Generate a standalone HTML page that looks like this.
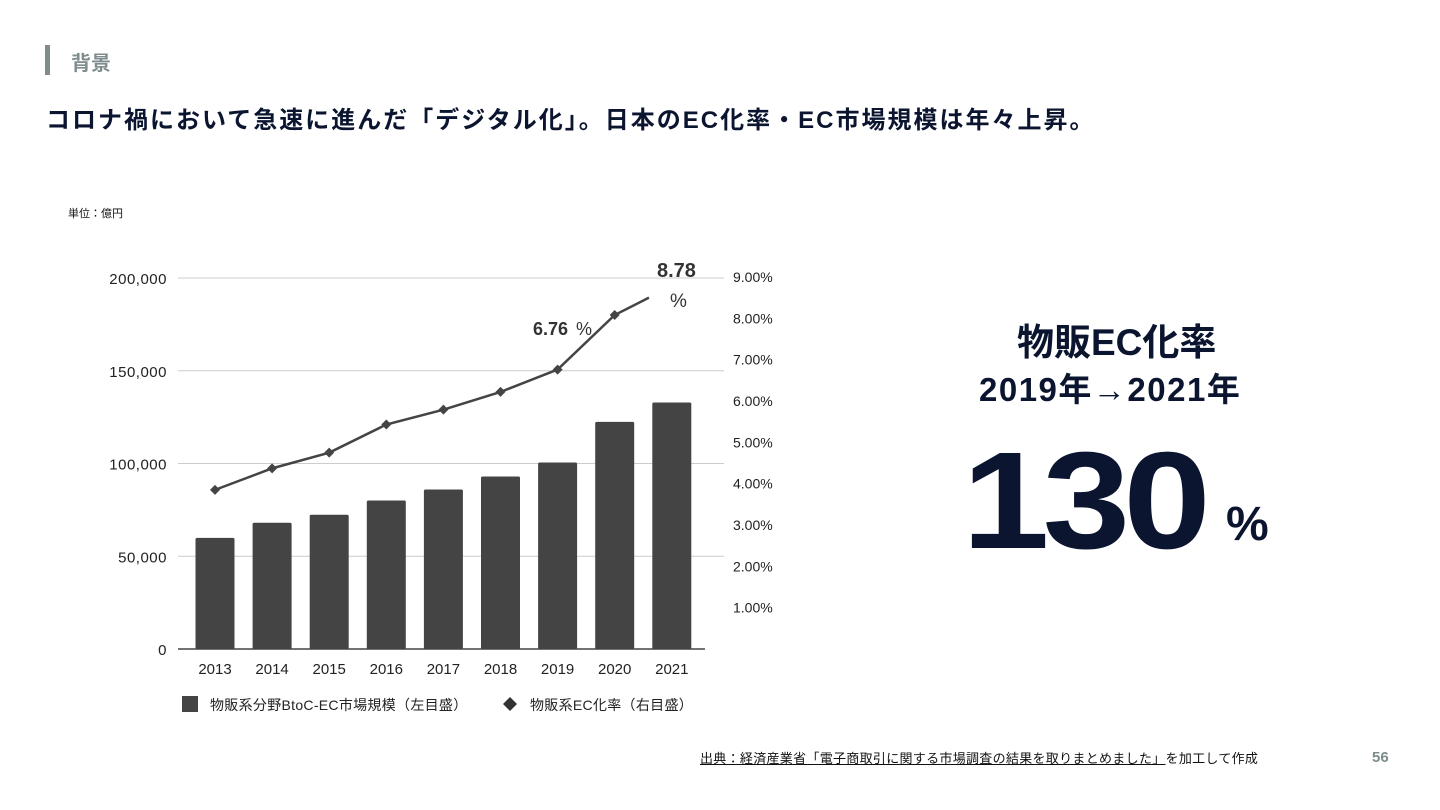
<!DOCTYPE html>
<html><head><meta charset="utf-8">
<style>
body{margin:0;width:1440px;height:810px;background:#fff;font-family:"Liberation Sans","Noto Sans CJK JP",sans-serif;position:relative;overflow:hidden;color:#0b1530}
.a{position:absolute;white-space:nowrap}
</style></head><body>
<div class="a" style="left:45px;top:45px;width:5px;height:30px;background:#7f8c8d"></div>
<div class="a" style="left:71px;top:47px;font-size:20px;font-weight:bold;color:#7f8c8d">背景</div>
<div class="a" style="left:46px;top:100px;font-size:24px;font-weight:bold;letter-spacing:2px;color:#0b1530">コロナ禍において急速に進んだ「デジタル化」。日本のEC化率・EC市場規模は年々上昇。</div>
<div class="a" style="left:68px;top:205px;font-size:11px;color:#111">単位：億円</div>

<svg class="a" style="left:0;top:0" width="1440" height="810">
<g id="g"></g>
</svg>

<div class="a" style="left:1017px;top:312px;font-size:37px;font-weight:bold;color:#0b1530">物販EC化率</div>
<div class="a" style="left:979px;top:363px;font-size:33px;font-weight:bold;letter-spacing:1.5px;color:#0b1530">2019年→2021年</div>
<div class="a" style="left:962px;top:422px;font-size:138px;font-weight:900;letter-spacing:-6px;color:#0b1530;transform:scaleX(1.14);transform-origin:left">130</div>
<div class="a" style="left:1226px;top:497px;font-size:48px;font-weight:bold;color:#0b1530">%</div>

<div class="a" style="left:700px;top:748px;font-size:13px;letter-spacing:0.3px;color:#111"><span style="text-decoration:underline">出典：経済産業省「電子商取引に関する市場調査の結果を取りまとめました」</span>を加工して作成</div>
<div class="a" style="left:1372px;top:749px;font-size:15px;font-weight:bold;color:#7f8c8d">56</div>

<script>
const years=["2013","2014","2015","2016","2017","2018","2019","2020","2021"];
const marketSize=[59931,68043,72398,80043,86008,92992,100515,122449,132865];
const ecRate=[3.85,4.37,4.75,5.43,5.79,6.22,6.76,8.08,8.78];
const leftTicks=[0,50000,100000,150000,200000];
const rightTicks=[1,2,3,4,5,6,7,8,9];
const NS="http://www.w3.org/2000/svg";
const g=document.getElementById('g');
const X0=178,X1=724,Y0=649,Y1=278;
const yL=v=>Y0-(v/200000)*(Y0-Y1);
const yR=v=>Y0-(v/9)*(Y0-Y1+1);
const xC=i=>215+i*57.1;
function el(t,a,txt){const e=document.createElementNS(NS,t);for(const k in a)e.setAttribute(k,a[k]);if(txt!=null)e.textContent=txt;g.appendChild(e);return e;}
leftTicks.forEach(v=>{
 if(v>0){const l=el('line',{x1:X0,x2:X1,y1:yL(v),y2:yL(v),stroke:'#ccc','stroke-width':1});
 
 }
 const t=el('text',{x:167,y:yL(v)+6,'text-anchor':'end','font-size':15,fill:'#222','letter-spacing':'0.5'},v.toLocaleString('en-US'));
 
 
});
rightTicks.forEach(v=>{
 const t=el('text',{x:733,y:yR(v)+5,'font-size':14,fill:'#222'},v.toFixed(2)+'%');
 
 
});
marketSize.forEach((v,i)=>{
 const r=el('rect',{x:xC(i)-19.5,y:yL(v),width:39,height:Y0-yL(v),fill:'#444',rx:1.5});
 
 
 const t=el('text',{x:xC(i),y:674,'text-anchor':'middle','font-size':15,fill:'#222'},years[i]);
 
 
});
const ax=el('line',{x1:X0,x2:X1-19,y1:Y0,y2:Y0,stroke:'#444','stroke-width':1.5});


const last=ecRate.length-1;
let pts=ecRate.map((v,i)=>[xC(i),yR(v)]);
const f=0.6;pts[last]=[pts[last-1][0]+(pts[last][0]-pts[last-1][0])*f,pts[last-1][1]+(pts[last][1]-pts[last-1][1])*f];
const pl=el('polyline',{points:pts.map(p=>p.join(',')).join(' '),fill:'none',stroke:'#444','stroke-width':2.5});


ecRate.forEach((v,i)=>{if(i===last)return;
 const x=xC(i),y=yR(v);
 const d=el('polygon',{points:`${x},${y-5} ${x+5},${y} ${x},${y+5} ${x-5},${y}`,fill:'#444'});
 
 
});
const a1=el('text',{x:533,y:335,'font-size':18,'font-weight':'bold',fill:'#333'},ecRate[6].toFixed(2));


const a1b=el('text',{x:576,y:335,'font-size':18,fill:'#333'},'%');


const a2=el('text',{x:657,y:277,'font-size':20,'font-weight':'bold',fill:'#333'},ecRate[8].toFixed(2));


const a2b=el('text',{x:670,y:307,'font-size':19,fill:'#333'},'%');


const lg1=el('rect',{x:182,y:696,width:16,height:16,fill:'#444'});


const lt1=el('text',{x:210,y:710,'font-size':14,fill:'#222','letter-spacing':'0.3'},'物販系分野BtoC-EC市場規模（左目盛）');


const lg2=el('polygon',{points:'510,697 517,704 510,711 503,704',fill:'#333'});


const lt2=el('text',{x:530,y:710,'font-size':14,fill:'#222','letter-spacing':'0.3'},'物販系EC化率（右目盛）');


</script>
</body></html>
